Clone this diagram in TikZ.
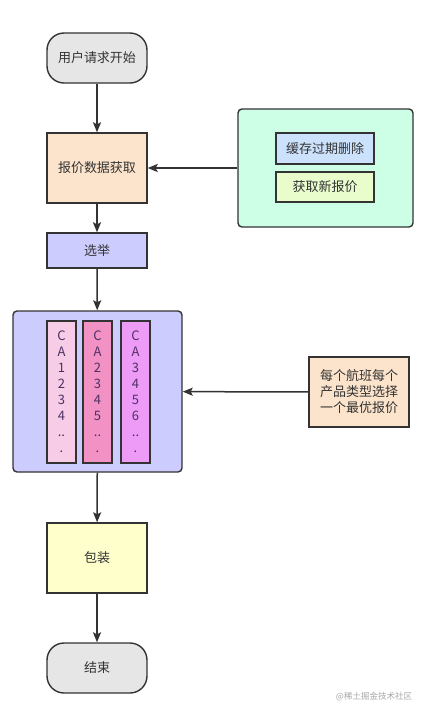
\documentclass[tikz,border=0pt]{standalone}
\usepackage{fontspec}
\setmainfont{Noto Sans CJK SC}
\usetikzlibrary{arrows.meta}

\definecolor{edge}{HTML}{333333}
\definecolor{txt}{HTML}{333333}
\definecolor{greyfill}{HTML}{E6E6E6}
\definecolor{peach}{HTML}{FCE3CB}
\definecolor{mint}{HTML}{CCFFE6}
\definecolor{skyblue}{HTML}{CCE2FC}
\definecolor{lime}{HTML}{E8FCCC}
\definecolor{lavender}{HTML}{CCCCFF}
\definecolor{pinkA}{HTML}{F7CCE6}
\definecolor{pinkB}{HTML}{F291C4}
\definecolor{pinkC}{HTML}{EE9BF7}
\definecolor{lemon}{HTML}{FFFFCC}
\definecolor{coltxt}{HTML}{4E3163}

\begin{document}
\begin{tikzpicture}[x=1pt,y=-1pt,
  box/.style={draw=edge,line width=1.4pt,inner sep=0pt,align=center,
    font=\fontsize{13}{16}\selectfont,text=txt},
  terminal/.style={box,fill=greyfill,minimum width=100pt,minimum height=50pt,rounded corners=17pt},
  stepbox/.style={box,minimum width=100pt,minimum height=70pt},
  column/.style={box,minimum width=29pt,minimum height=142pt,text=coltxt},
  flow/.style={draw=edge,line width=1.5pt,-{Stealth[length=10pt,width=8pt,inset=2pt]}}]
\useasboundingbox (0,0) rectangle (429,716);

\node[terminal] (start) at (97,58) {用户请求开始};
\node[stepbox,fill=peach] (fetch) at (97,168) {报价数据获取};

\node[box,fill=mint,minimum width=175pt,minimum height=118pt,rounded corners=4pt] (cache) at (325.5,168) {};
\node[box,fill=skyblue,minimum width=98pt,minimum height=31pt] (expire) at (325,148.5) {缓存过期删除};
\node[box,fill=lime,minimum width=98pt,minimum height=30pt] (renew) at (325,187) {获取新报价};

\node[box,fill=lavender,minimum width=100pt,minimum height=35pt] (elect) at (97,250.5) {选举};

\node[box,fill=lavender,minimum width=169pt,minimum height=161pt,rounded corners=4pt] (select) at (97.5,391.5) {};
\node[column,fill=pinkA] (caA) at (61.5,392) {C\\A\\1\\2\\3\\4\\..\\.};
\node[column,fill=pinkB] (caB) at (97.5,392) {C\\A\\2\\3\\4\\5\\..\\.};
\node[column,fill=pinkC] (caC) at (135.5,392) {C\\A\\3\\4\\5\\6\\..\\.};

\node[stepbox,fill=peach] (rule) at (359,392) {每个航班每个\\产品类型选择\\一个最优报价};

\node[stepbox,fill=lemon] (pack) at (97,558) {包装};
\node[terminal] (finish) at (97,668) {结束};

\draw[flow] (start) -- (fetch);
\draw[flow] (fetch) -- (elect);
\draw[flow] (elect) -- (select);
\draw[flow] (select) -- (pack);
\draw[flow] (pack) -- (finish);
\draw[flow] (cache) -- (fetch);
\draw[flow] (rule) -- (select);

\node[text=black!35,font=\fontsize{8.5}{10}\selectfont] (mark) at (374,697) {@稀土掘金技术社区};
\end{tikzpicture}
\end{document}
